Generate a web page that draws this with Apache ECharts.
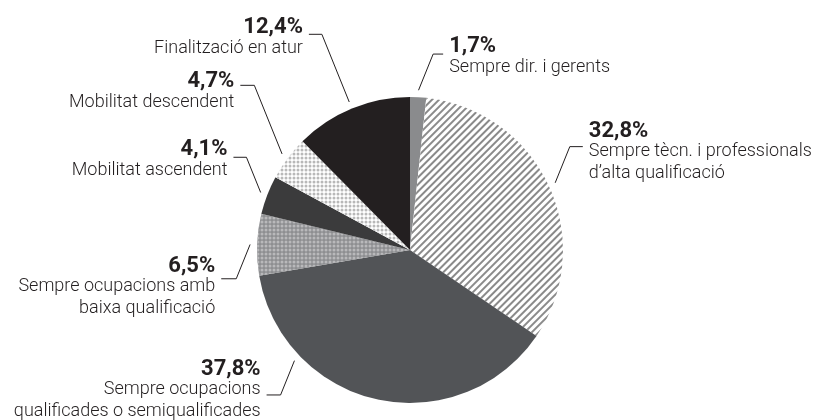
<!DOCTYPE html>
<html>
<head>
<meta charset="utf-8">
<script src="https://cdn.jsdelivr.net/npm/echarts@6/dist/echarts.min.js"></script>
<style>
  html, body { margin: 0; padding: 0; background: #ffffff; }
  #chart { width: 817px; height: 420px; }
</style>
</head>
<body>
<div id="chart"></div>
<script>
// Trajectòries ocupacionals (% sobre el total)
const categories = [
  'Sempre dir. i gerents',
  'Sempre tècn. i professionals\nd’alta qualificació',
  'Sempre ocupacions\nqualificades o semiqualificades',
  'Sempre ocupacions amb\nbaixa qualificació',
  'Mobilitat ascendent',
  'Mobilitat descendent',
  'Finalització en atur'
];
const shares = [1.7, 32.8, 37.8, 6.5, 4.1, 4.7, 12.4];

// Pie geometry
const CX = 410, CY = 250, R = 153;
const GAP = 7;                       // distance between slice edge and callout start
const SLOPE = 22 * Math.PI / 180;    // callout leg tilt from the vertical

// Callout settings per slice: side (+1 right, -1 left), leg direction, leg length,
// tail length, text offset from the tail, anchor rotation (degrees)
const callouts = [
  { side:  1, up: true,  leg: 39, tail: 10, dy: -17, shift: 0 },
  { side:  1, up: true,  leg: 39, tail: 13, dy: -25, shift: 0 },
  { side: -1, up: false, leg: 37, tail: 14, dy: -35, shift: 34 },
  { side: -1, up: false, leg: 37, tail: 15, dy: -22, shift: 0 },
  { side: -1, up: true,  leg: 38, tail: 13, dy: -17, shift: 0 },
  { side: -1, up: true,  leg: 74, tail: 14, dy: -13, shift: 0 },
  { side: -1, up: true,  leg: 73, tail: 13, dy: -16, shift: 0 }
];

// Slice fills
const hatch = {
  symbol: 'rect', symbolSize: 1,
  dashArrayX: [[1, 0]], dashArrayY: [2, 3],
  rotation: -Math.PI / 4, color: '#8a8a8a'
};
const dotsOnGrey = {
  symbol: 'circle', symbolSize: 0.75,
  dashArrayX: [[4, 0]], dashArrayY: [4, 0],
  rotation: 0, color: '#b9b9bb'
};
const dotsOnWhite = {
  symbol: 'circle', symbolSize: 0.75,
  dashArrayX: [[4, 0]], dashArrayY: [4, 0],
  rotation: 0, color: '#b8b8b8'
};
const sliceStyles = [
  { color: '#8a8b8d' },
  { color: '#ffffff', decal: hatch },
  { color: '#525457' },
  { color: '#8e8f91', decal: dotsOnGrey },
  { color: '#3b3b3c' },
  { color: '#ffffff', decal: dotsOnWhite },
  { color: '#231f20' }
];

const TEXT = '#231f20';

const chart = echarts.init(document.getElementById('chart'), null, { renderer: 'canvas' });

chart.setOption({
  animation: false,
  backgroundColor: '#ffffff',
  series: [{
    type: 'pie',
    center: [CX, CY],
    radius: R,
    startAngle: 90,
    clockwise: true,
    avoidLabelOverlap: false,
    silent: true,
    data: shares.map((v, i) => ({
      value: v,
      name: categories[i],
      itemStyle: Object.assign({ borderWidth: 0 }, sliceStyles[i])
    })),
    label: {
      show: true,
      position: 'outside',
      formatter: p => '{v|' + p.value.toFixed(1).replace('.', ',') + '%}\n{n|' +
        p.name.split('\n').join('}\n{n|') + '}',
      rich: {
        v: {
          fontFamily: 'Roboto, "Liberation Sans", sans-serif',
          fontWeight: 'bold', fontSize: 22, lineHeight: 19, color: TEXT
        },
        n: {
          fontFamily: 'Roboto, "Liberation Sans", sans-serif',
          fontWeight: 300, fontSize: 18, lineHeight: 22, color: TEXT
        }
      }
    },
    labelLine: {
      show: true,
      smooth: false,
      lineStyle: { color: TEXT, width: 1 }
    },
    labelLayout: function (p) {
      const c = callouts[p.dataIndex];
      const pts = p.labelLinePoints;
      if (!pts) return {};
      const a = Math.atan2(pts[0][0] - CX, CY - pts[0][1]) + c.shift * Math.PI / 180;
      const sx = CX + (R + GAP) * Math.sin(a);
      const sy = CY - (R + GAP) * Math.cos(a);
      const bx = sx + c.side * c.leg * Math.sin(SLOPE);
      const by = sy + (c.up ? -1 : 1) * c.leg * Math.cos(SLOPE);
      const ex = bx + c.side * c.tail;
      return {
        x: ex + c.side * 6,
        y: by + c.dy,
        align: c.side > 0 ? 'left' : 'right',
        verticalAlign: 'top',
        labelLinePoints: [[sx, sy], [bx, by], [ex, by]]
      };
    }
  }]
});
</script>
</body>
</html>
